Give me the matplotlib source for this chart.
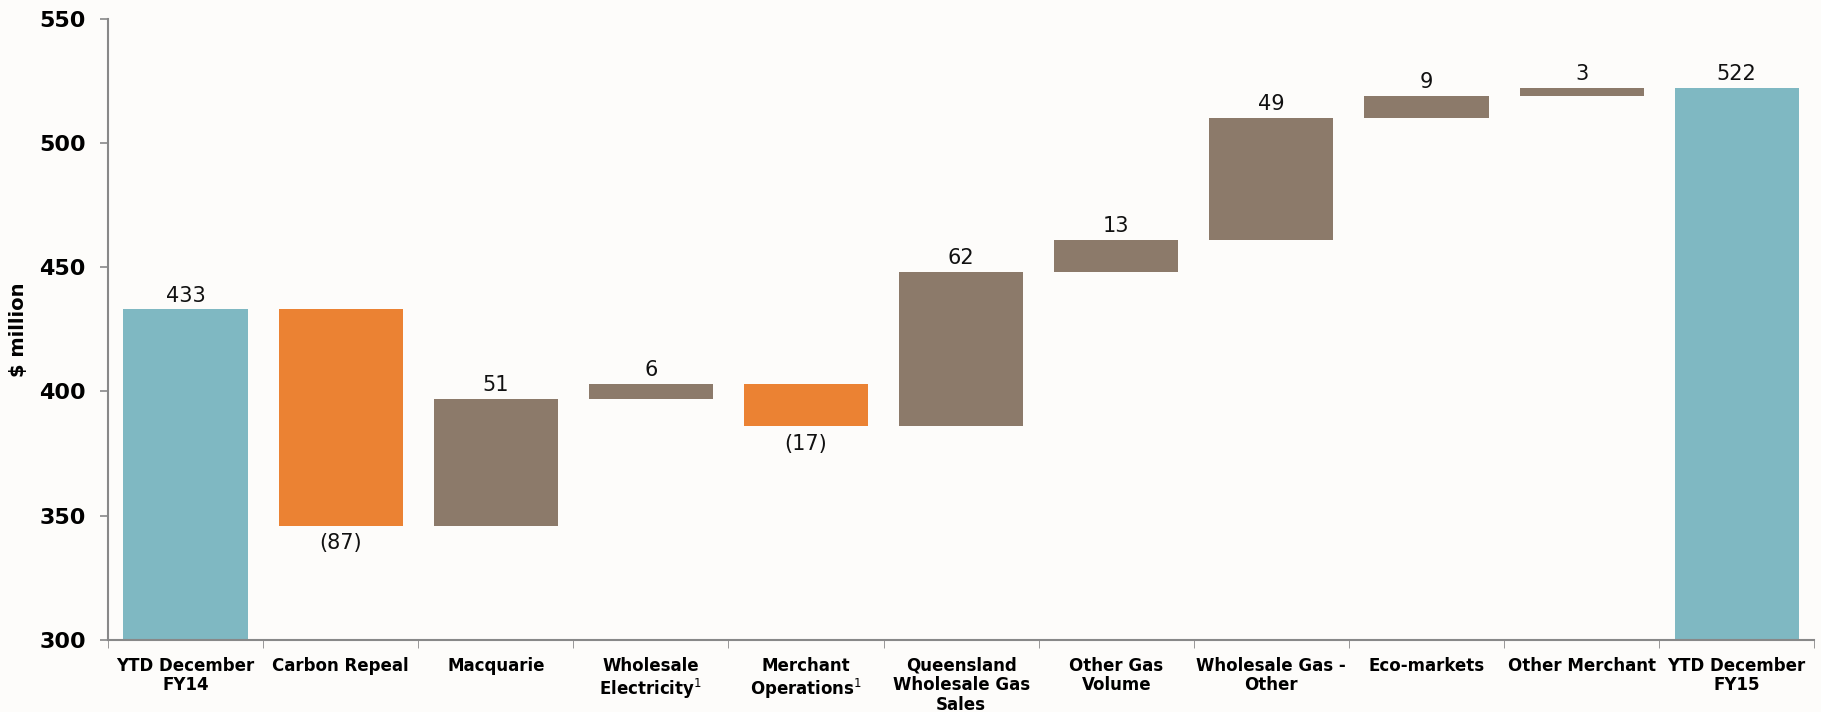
import matplotlib
matplotlib.use("Agg")
import matplotlib.pyplot as plt
import numpy as np

categories = ["YTD December\nFY14", "Carbon Repeal", "Macquarie",
              "Wholesale\nElectricity$^{1}$", "Merchant\nOperations$^{1}$",
              "Queensland\nWholesale Gas\nSales", "Other Gas\nVolume",
              "Wholesale Gas -\nOther", "Eco-markets", "Other Merchant",
              "YTD December\nFY15"]
changes = [433, -87, 51, 6, -17, 62, 13, 49, 9, 3, 522]
labels = ["433", "(87)", "51", "6", "(17)", "62", "13", "49", "9", "3", "522"]

teal = "#7fb8c2"
orange = "#eb8233"
brown = "#8c7a6a"
bg = "#fdfcfa"

fig = plt.figure(figsize=(18.21, 7.12), dpi=100, facecolor=bg)
ax = fig.add_axes([0.0593, 0.101, 0.937, 0.873], facecolor=bg)

x = np.arange(len(categories))
running = 0
for i, v in enumerate(changes):
    if i == 0 or i == len(changes) - 1:
        bottom, height, col = 0, v, teal
        running = v
        top = v
    else:
        if v >= 0:
            bottom, height, col = running, v, brown
        else:
            bottom, height, col = running + v, -v, orange
        running += v
        top = bottom + height
    ax.bar(x[i], height, bottom=bottom, width=0.8, color=col, zorder=2)
    if v >= 0:
        ax.text(x[i], top + 1.5, labels[i], ha="center", va="bottom", fontsize=15, color="#111111")
    else:
        ax.text(x[i], bottom - 3, labels[i], ha="center", va="top", fontsize=15, color="#111111")

ax.set_ylim(300, 550)
ax.set_xlim(-0.5, len(categories) - 0.5)
ax.set_yticks([300, 350, 400, 450, 500, 550])
ax.set_yticklabels(["300", "350", "400", "450", "500", "550"], fontsize=16, fontweight="bold")
ax.set_ylabel(r"\$ million", fontsize=14, fontweight="bold", labelpad=8)

# categories centred, ticks on boundaries
ax.set_xticks(x)
ax.set_xticklabels(categories, fontsize=12, fontweight="bold", linespacing=1.1,
                   multialignment="center")
ax.tick_params(axis="x", length=0, pad=12)
ax.set_xticks(np.arange(len(categories) + 1) - 0.5, minor=True)
ax.tick_params(axis="x", which="minor", length=6, color="#888888", direction="out")
ax.tick_params(axis="y", length=6, color="#888888", width=1.2, pad=10)

for s in ["top", "right"]:
    ax.spines[s].set_visible(False)
for s in ["left", "bottom"]:
    ax.spines[s].set_color("#888888")
    ax.spines[s].set_linewidth(1.5)

fig.savefig("out.png", dpi=100, facecolor=bg)
